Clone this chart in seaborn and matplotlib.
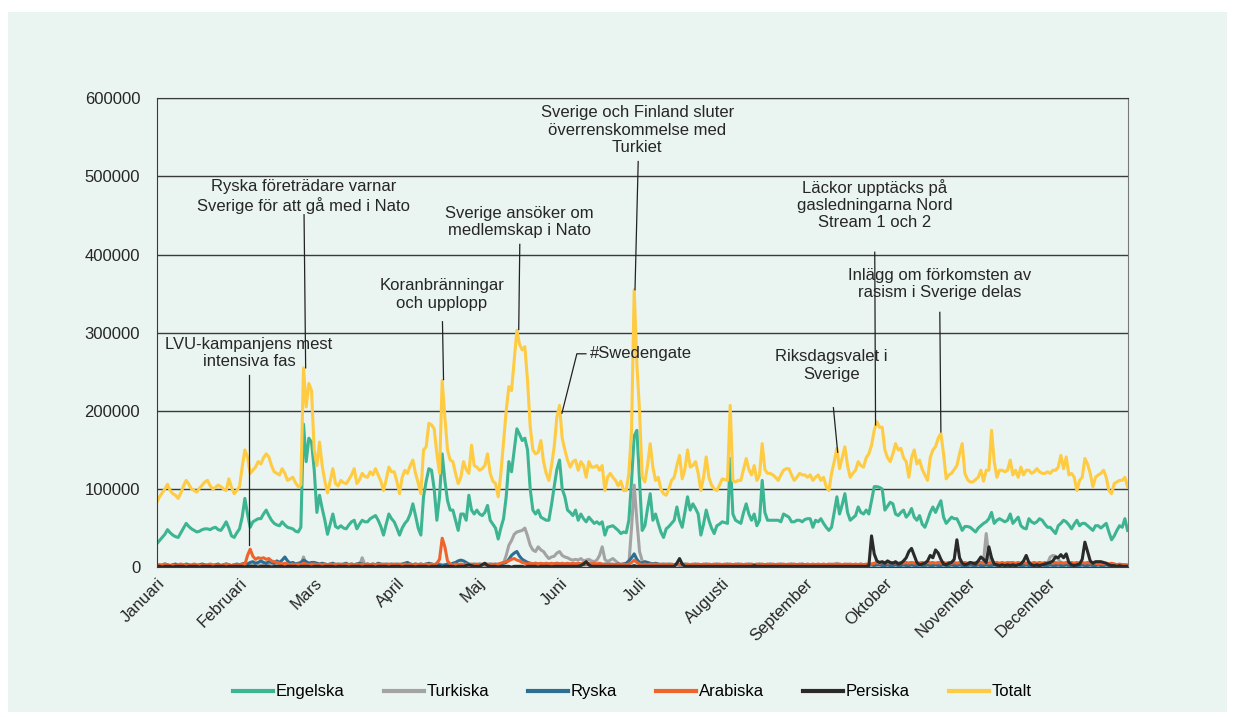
import matplotlib
matplotlib.use("Agg")
import matplotlib.pyplot as plt
from matplotlib.patches import Rectangle
import seaborn as sns
import pandas as pd

# Daily counts in thousands, one list per month (2022)
totalt = [
    83, 90, 95, 100, 106, 98, 94, 92, 88, 95, 104, 111, 106, 100, 98, 96, 101, 105, 109, 111, 104, 100, 102, 105, 103, 100, 98, 113, 102, 94, 98,
    103, 128, 150, 141, 120, 124, 128, 135, 132, 140, 145, 141, 130, 122, 120, 118, 126, 120, 111, 113, 115, 108, 103, 105, 255, 205, 235, 226,
    150, 130, 160, 130, 110, 95, 110, 126, 107, 104, 111, 108, 107, 112, 118, 126, 107, 112, 120, 116, 115, 122, 118, 126, 118, 110, 98, 112, 128, 122, 122,
    110, 94, 115, 124, 120, 130, 137, 120, 108, 94, 150, 154, 184, 182, 177, 145, 120, 239, 192, 150, 137, 135, 120, 107, 115, 135, 125, 120, 156, 130,
    128, 124, 126, 130, 145, 120, 110, 107, 90, 120, 160, 200, 231, 226, 265, 303, 285, 278, 282, 239, 180, 150, 145, 147, 162, 135, 120, 111, 130, 154, 192,
    207, 165, 150, 137, 128, 135, 137, 124, 135, 130, 115, 135, 128, 128, 130, 124, 130, 98, 115, 120, 115, 111, 104, 110, 98, 98, 120, 175, 355, 260,
    200, 115, 109, 130, 158, 128, 111, 115, 100, 94, 92, 100, 111, 115, 130, 143, 113, 125, 150, 128, 130, 135, 120, 98, 115, 141, 115, 105, 100, 98, 105,
    113, 112, 111, 207, 111, 109, 111, 111, 125, 139, 125, 118, 130, 111, 118, 158, 125, 120, 120, 118, 115, 111, 118, 124, 126, 126, 118, 111, 115, 120, 118,
    118, 115, 118, 111, 115, 118, 111, 115, 103, 98, 120, 135, 152, 126, 140, 154, 130, 115, 120, 124, 135, 130, 128, 140, 145, 156, 175, 186, 179, 179,
    150, 140, 135, 145, 158, 150, 152, 140, 135, 115, 140, 150, 132, 137, 125, 118, 111, 140, 150, 154, 165, 171, 145, 113, 118, 120, 125, 130, 145, 158, 120,
    112, 109, 109, 112, 115, 124, 110, 124, 124, 175, 135, 115, 124, 124, 122, 124, 137, 118, 124, 115, 128, 118, 124, 124, 120, 122, 126, 122, 120, 120,
    122, 120, 124, 124, 128, 143, 126, 141, 118, 120, 115, 98, 111, 115, 139, 132, 120, 103, 115, 118, 120, 124, 115, 98, 94, 107, 109, 111, 111, 115, 103,
]
engelska = [
    30, 34, 38, 42, 48, 44, 41, 39, 38, 44, 50, 56, 52, 49, 47, 45, 46, 48, 49, 49, 48, 50, 51, 48, 47, 52, 58, 50, 40, 38, 44,
    49, 64, 88, 68, 51, 58, 60, 62, 62, 68, 73, 66, 60, 56, 54, 53, 58, 54, 51, 50, 49, 46, 45, 51, 183, 135, 165, 160,
    125, 70, 92, 75, 60, 42, 55, 68, 52, 50, 53, 50, 49, 54, 58, 60, 49, 55, 60, 58, 58, 62, 64, 66, 60, 52, 41, 55, 68, 62, 58,
    50, 41, 50, 56, 60, 68, 81, 66, 50, 41, 90, 110, 126, 124, 100, 60, 90, 145, 111, 85, 73, 73, 60, 47, 68, 68, 60, 92, 73, 68,
    73, 68, 66, 70, 79, 60, 55, 50, 36, 50, 62, 90, 135, 122, 150, 177, 170, 162, 165, 150, 100, 73, 68, 73, 64, 62, 60, 60, 80, 103, 125,
    137, 100, 90, 73, 70, 66, 73, 60, 68, 62, 58, 64, 60, 56, 58, 55, 58, 41, 51, 52, 53, 50, 47, 43, 45, 44, 60, 110, 168, 175,
    110, 47, 53, 75, 94, 60, 68, 56, 45, 38, 49, 52, 56, 60, 77, 60, 51, 70, 90, 73, 81, 75, 68, 41, 55, 73, 60, 50, 43, 53, 55,
    58, 57, 56, 139, 68, 60, 58, 56, 70, 81, 68, 60, 68, 53, 60, 111, 70, 60, 60, 60, 60, 60, 58, 68, 66, 64, 58, 58, 60, 60, 58,
    61, 62, 62, 51, 60, 58, 62, 56, 51, 47, 51, 70, 90, 68, 80, 94, 70, 60, 63, 66, 77, 70, 68, 73, 68, 85, 103, 103, 102, 100,
    73, 78, 83, 81, 68, 66, 70, 73, 64, 68, 75, 64, 60, 66, 55, 51, 60, 70, 77, 70, 78, 85, 64, 56, 60, 64, 62, 62, 55, 47, 52,
    52, 51, 48, 45, 50, 53, 56, 58, 62, 70, 56, 60, 62, 60, 58, 60, 68, 56, 60, 64, 53, 50, 49, 62, 58, 56, 58, 62, 60, 55,
    51, 51, 47, 43, 53, 56, 60, 58, 54, 49, 55, 60, 53, 56, 56, 53, 50, 47, 53, 53, 50, 53, 56, 45, 35, 40, 47, 53, 51, 62, 47,
]
turkiska = [
    2, 1, 2, 1, 2, 2, 1, 2, 1, 2, 2, 1, 2, 2, 1, 2, 1, 2, 2, 1, 2, 2, 1, 2, 2, 1, 2, 2, 1, 2, 2,
    2, 2, 3, 2, 2, 3, 2, 2, 3, 2, 2, 3, 2, 2, 2, 3, 2, 2, 2, 3, 2, 2, 2, 3, 13, 4, 3, 2,
    2, 3, 2, 3, 2, 2, 3, 2, 2, 3, 2, 2, 3, 2, 2, 3, 2, 2, 12, 3, 2, 2, 3, 2, 2, 3, 2, 2, 3, 2, 2,
    2, 3, 2, 2, 3, 2, 2, 3, 2, 2, 3, 2, 2, 3, 2, 3, 4, 3, 2, 2, 3, 2, 2, 3, 2, 2, 3, 2, 2, 3,
    3, 2, 3, 2, 3, 2, 3, 2, 3, 2, 5, 15, 28, 34, 42, 45, 46, 47, 50, 40, 28, 22, 20, 26, 22, 20, 15, 11, 13, 14, 18,
    20, 15, 13, 12, 10, 9, 10, 9, 11, 8, 9, 10, 8, 7, 9, 15, 26, 10, 7, 9, 11, 8, 5, 4, 4, 3, 4, 50, 105, 60,
    20, 8, 5, 4, 3, 4, 3, 2, 3, 2, 2, 3, 2, 2, 3, 2, 2, 3, 2, 2, 3, 2, 2, 3, 2, 2, 3, 2, 2, 3, 2,
    2, 3, 2, 2, 3, 2, 2, 3, 2, 2, 3, 2, 2, 3, 2, 2, 3, 2, 2, 3, 2, 2, 3, 2, 2, 3, 2, 2, 3, 2, 2,
    2, 3, 2, 2, 3, 2, 2, 3, 2, 3, 4, 3, 5, 3, 2, 3, 4, 3, 2, 3, 3, 4, 3, 2, 3, 4, 3, 5, 4, 3,
    4, 5, 4, 6, 5, 4, 5, 6, 4, 5, 6, 5, 4, 5, 6, 5, 4, 6, 5, 4, 5, 6, 5, 4, 5, 6, 5, 4, 5, 4, 5,
    4, 5, 4, 5, 6, 5, 8, 43, 12, 5, 4, 5, 4, 5, 4, 5, 6, 5, 4, 5, 4, 5, 4, 5, 4, 5, 4, 5, 4, 5,
    5, 13, 15, 14, 10, 6, 5, 4, 5, 4, 5, 4, 5, 4, 5, 4, 5, 4, 5, 4, 3, 4, 3, 4, 3, 4, 3, 3, 2, 3, 2,
]
ryska = [
    2, 3, 2, 4, 3, 2, 3, 4, 2, 3, 2, 4, 3, 2, 3, 2, 3, 4, 3, 2, 3, 2, 3, 4, 2, 3, 4, 3, 2, 3, 4,
    3, 4, 5, 4, 6, 7, 5, 6, 8, 6, 5, 7, 6, 5, 8, 6, 9, 13, 8, 5, 6, 4, 5, 6, 9, 7, 5, 6,
    6, 5, 4, 5, 4, 3, 4, 5, 3, 4, 3, 4, 5, 3, 4, 3, 4, 5, 4, 3, 4, 3, 4, 3, 5, 4, 3, 4, 3, 4, 3,
    4, 3, 4, 5, 6, 4, 3, 4, 3, 4, 3, 4, 5, 4, 3, 4, 3, 2, 3, 4, 3, 5, 6, 8, 9, 8, 6, 4, 3, 4,
    3, 4, 3, 4, 3, 4, 3, 4, 3, 4, 5, 6, 10, 15, 18, 20, 14, 10, 8, 6, 5, 4, 5, 4, 3, 4, 3, 4, 3, 4, 5,
    4, 3, 4, 3, 4, 3, 4, 3, 4, 3, 4, 3, 4, 3, 3, 4, 3, 4, 3, 4, 3, 3, 4, 3, 4, 5, 8, 12, 17, 10,
    6, 5, 7, 6, 5, 4, 5, 4, 3, 4, 3, 4, 3, 3, 4, 3, 3, 4, 3, 3, 3, 4, 3, 3, 3, 4, 3, 3, 3, 4, 3,
    3, 3, 4, 3, 3, 3, 4, 3, 3, 3, 4, 3, 3, 3, 4, 3, 3, 3, 4, 3, 3, 3, 4, 3, 3, 3, 4, 3, 3, 3, 4,
    3, 3, 2, 3, 3, 2, 3, 3, 2, 3, 3, 2, 3, 3, 2, 3, 3, 2, 3, 3, 2, 3, 3, 2, 3, 3, 2, 3, 3, 2,
    2, 3, 2, 2, 3, 2, 2, 3, 2, 2, 3, 2, 2, 3, 2, 2, 3, 2, 2, 3, 2, 2, 3, 2, 2, 3, 2, 2, 3, 2, 2,
    2, 3, 2, 2, 3, 2, 2, 3, 2, 2, 3, 2, 2, 3, 2, 2, 3, 2, 2, 3, 2, 2, 3, 2, 2, 3, 2, 2, 3, 2,
    2, 3, 2, 2, 3, 2, 2, 3, 2, 2, 3, 2, 2, 3, 2, 2, 3, 2, 2, 3, 2, 2, 3, 2, 2, 3, 2, 2, 3, 2, 2,
]
arabiska = [
    3, 2, 3, 4, 3, 2, 3, 2, 3, 4, 3, 3, 2, 3, 4, 3, 2, 3, 2, 3, 4, 3, 2, 3, 2, 3, 4, 3, 2, 3, 3,
    3, 4, 3, 15, 23, 14, 10, 12, 11, 12, 10, 11, 8, 7, 6, 5, 4, 5, 4, 3, 4, 3, 4, 3, 5, 4, 3, 4,
    4, 3, 4, 3, 4, 3, 4, 3, 4, 3, 4, 3, 4, 3, 4, 3, 4, 3, 4, 3, 4, 3, 4, 3, 4, 3, 4, 3, 4, 3, 4,
    3, 4, 3, 4, 3, 4, 3, 4, 3, 4, 3, 4, 3, 4, 3, 5, 10, 37, 26, 8, 4, 3, 4, 3, 4, 3, 4, 3, 4, 3,
    4, 3, 4, 3, 4, 3, 4, 3, 4, 5, 6, 7, 8, 10, 11, 9, 8, 6, 5, 4, 5, 4, 5, 4, 5, 4, 5, 4, 5, 4, 5,
    4, 5, 4, 5, 4, 5, 4, 5, 4, 5, 4, 5, 4, 5, 4, 5, 4, 3, 4, 3, 4, 3, 4, 3, 4, 3, 4, 6, 9, 6,
    4, 3, 4, 3, 4, 3, 4, 3, 4, 3, 4, 3, 4, 3, 4, 3, 4, 3, 4, 3, 4, 3, 4, 3, 4, 3, 4, 3, 4, 3, 4,
    3, 4, 3, 4, 3, 4, 3, 4, 3, 4, 3, 4, 3, 4, 3, 4, 3, 4, 3, 4, 3, 4, 3, 4, 3, 4, 3, 4, 3, 4, 3,
    3, 4, 3, 4, 3, 4, 3, 4, 3, 4, 3, 4, 3, 4, 3, 4, 3, 4, 3, 4, 3, 4, 3, 4, 3, 4, 5, 6, 5, 6,
    6, 5, 6, 5, 6, 5, 6, 5, 6, 5, 6, 5, 6, 5, 6, 5, 6, 5, 6, 5, 6, 5, 6, 5, 6, 5, 6, 5, 6, 5, 6,
    5, 6, 5, 6, 5, 6, 5, 6, 5, 6, 5, 6, 5, 6, 5, 6, 5, 6, 5, 6, 5, 6, 5, 6, 5, 6, 5, 6, 5, 6,
    5, 6, 5, 6, 5, 6, 5, 6, 5, 6, 5, 6, 5, 6, 5, 6, 5, 6, 5, 4, 5, 4, 5, 4, 5, 4, 3, 4, 3, 3, 3,
]
persiska = [
    1, 1, 0, 1, 1, 1, 0, 1, 1, 1, 1, 0, 1, 1, 1, 1, 0, 1, 1, 1, 1, 0, 1, 1, 1, 1, 0, 1, 1, 1, 1,
    1, 1, 0, 1, 1, 1, 1, 0, 1, 1, 1, 1, 0, 1, 1, 1, 1, 0, 1, 1, 1, 1, 0, 1, 1, 1, 1, 0,
    1, 1, 1, 0, 1, 1, 1, 1, 0, 1, 1, 1, 1, 0, 1, 1, 1, 1, 0, 1, 1, 1, 1, 0, 1, 1, 1, 1, 0, 1, 1,
    1, 1, 0, 1, 1, 1, 1, 0, 1, 1, 1, 1, 0, 1, 1, 1, 1, 0, 1, 1, 1, 1, 0, 1, 1, 1, 2, 3, 2, 1,
    1, 1, 3, 5, 2, 1, 1, 1, 0, 1, 1, 1, 1, 0, 1, 1, 1, 1, 0, 1, 1, 1, 1, 0, 1, 1, 1, 1, 0, 1, 1,
    1, 1, 1, 1, 1, 1, 1, 1, 2, 4, 7, 3, 1, 1, 1, 1, 1, 1, 1, 1, 1, 1, 1, 1, 1, 1, 1, 1, 2, 1,
    1, 1, 1, 1, 1, 1, 1, 1, 1, 1, 1, 1, 1, 1, 5, 11, 4, 1, 1, 1, 1, 1, 1, 1, 1, 1, 1, 1, 1, 1, 1,
    1, 1, 1, 1, 1, 1, 1, 1, 1, 1, 1, 1, 2, 1, 1, 1, 1, 1, 1, 1, 1, 1, 1, 1, 1, 1, 1, 1, 1, 1, 1,
    1, 1, 1, 1, 1, 1, 1, 1, 1, 1, 1, 1, 1, 1, 1, 1, 1, 1, 1, 1, 1, 1, 1, 1, 2, 40, 17, 8, 6, 7,
    5, 8, 6, 5, 7, 4, 5, 8, 12, 20, 24, 15, 6, 3, 4, 5, 8, 15, 12, 22, 18, 10, 4, 3, 5, 6, 10, 35, 12, 5, 3,
    4, 6, 5, 4, 8, 13, 10, 6, 26, 12, 4, 3, 2, 3, 2, 3, 2, 3, 2, 3, 4, 8, 15, 6, 3, 2, 3, 2, 3, 4,
    5, 6, 8, 13, 12, 16, 12, 17, 6, 3, 2, 3, 4, 10, 32, 20, 8, 5, 7, 7, 7, 6, 5, 3, 2, 2, 1, 2, 1, 1, 1,
]

series_names = ["Engelska", "Turkiska", "Ryska", "Arabiska", "Persiska", "Totalt"]
series_values = [engelska, turkiska, ryska, arabiska, persiska, totalt]
colors = ["#3db592", "#a3a3a3", "#2c6f94", "#f0632b", "#2a2a2a", "#ffcb42"]
months = ["Januari", "Februari", "Mars", "April", "Maj", "Juni", "Juli",
          "Augusti", "September", "Oktober", "November", "December"]

dates = pd.date_range("2022-01-01", "2022-12-31", freq="D")
frames = []
for name, vals in zip(series_names, series_values):
    frames.append(pd.DataFrame({"Datum": dates, "Antal": [v * 1000 for v in vals], "Språk": name}))
df = pd.concat(frames, ignore_index=True)

bg = "#eaf4f0"
ink = "#262626"
fs = 12
plt.rcParams["font.family"] = ["Liberation Sans", "DejaVu Sans"]

fig = plt.figure(figsize=(12.35, 7.17), dpi=100)
fig.patch.set_facecolor("white")
fig.patches.append(Rectangle((8 / 1235, 5 / 717), 1219 / 1235, 700 / 717,
                             transform=fig.transFigure, facecolor=bg, edgecolor="none", zorder=-5))
ax = fig.add_axes([0.127, 0.209, 0.786, 0.654])
ax.set_facecolor(bg)

sns.lineplot(data=df, x="Datum", y="Antal", hue="Språk", hue_order=series_names,
             palette=colors, linewidth=2.2, estimator=None, ax=ax)

ax.set_xlim(dates[0], dates[-1])
ax.set_ylim(0, 600000)
ax.set_yticks(range(0, 600001, 100000))
ax.set_yticklabels([str(v) for v in range(0, 600001, 100000)], fontsize=fs, color=ink)
month_starts = pd.date_range("2022-01-01", periods=12, freq="MS")
ax.set_xticks(month_starts)
ax.set_xticklabels(months, rotation=45, ha="right", rotation_mode="anchor", fontsize=fs, color=ink)
ax.tick_params(axis="both", length=0)
ax.tick_params(axis="y", pad=12)
ax.tick_params(axis="x", pad=6)
ax.set_xlabel("")
ax.set_ylabel("")
ax.grid(axis="y", color="#3a3a3a", linewidth=1)
ax.grid(axis="x", visible=False)
ax.set_axisbelow(True)
for side in ["left", "bottom", "top"]:
    ax.spines[side].set_color("#3a3a3a")
ax.spines["right"].set_color("#777777")


def day(d):
    return dates[0] + pd.Timedelta(days=d)


notes = [
    ("LVU-kampanjens mest\nintensiva fas", 34.6, 274000, [(34.6, 246000), (34.6, 28000)]),
    ("Ryska företrädare varnar\nSverige för att gå med i Nato", 54.9, 474000, [(55.2, 451000), (55.8, 255000)]),
    ("Koranbränningar\noch upplopp", 106.8, 349000, [(107.1, 314000), (107.5, 240000)]),
    ("Sverige ansöker om\nmedlemskap i Nato", 136.1, 442000, [(136.1, 413000), (135.7, 304000)]),
    ("Sverige och Finland sluter\növerrenskommelse med\nTurkiet", 180.1, 559000, [(180.5, 519000), (179.3, 355000)]),
    ("Läckor upptäcks på\ngasledningarna Nord\nStream 1 och 2", 269.2, 464000, [(269.2, 403000), (269.5, 182000)]),
    ("Inlägg om förkomsten av\nrasism i Sverige delas", 293.6, 362000, [(293.6, 326000), (294.0, 173000)]),
    ("Riksdagsvalet i\nSverige", 253.0, 258000, [(253.7, 204000), (255.3, 147000)]),
]
for text, tx, ty, pts in notes:
    ax.text(day(tx), ty, text, ha="center", va="center", fontsize=fs, color=ink, linespacing=1.2)
    ax.plot([day(p[0]) for p in pts], [p[1] for p in pts], color="#222222", lw=0.9)

ax.text(day(162.5), 273000, "#Swedengate", ha="left", va="center", fontsize=fs, color=ink)
ax.plot([day(160.9), day(157.5), day(151.9)], [273000, 273000, 197000], color="#222222", lw=0.9)

handles, labels = ax.get_legend_handles_labels()
ax.legend(handles, labels, loc="center", bbox_to_anchor=(0.512, 0.035),
          bbox_transform=fig.transFigure, ncol=6, frameon=False, fontsize=fs,
          handlelength=2.4, handletextpad=0.15, columnspacing=2.35)
for line in ax.get_legend().get_lines():
    line.set_linewidth(3)

fig.savefig("out.png", dpi=100, facecolor=fig.get_facecolor())
